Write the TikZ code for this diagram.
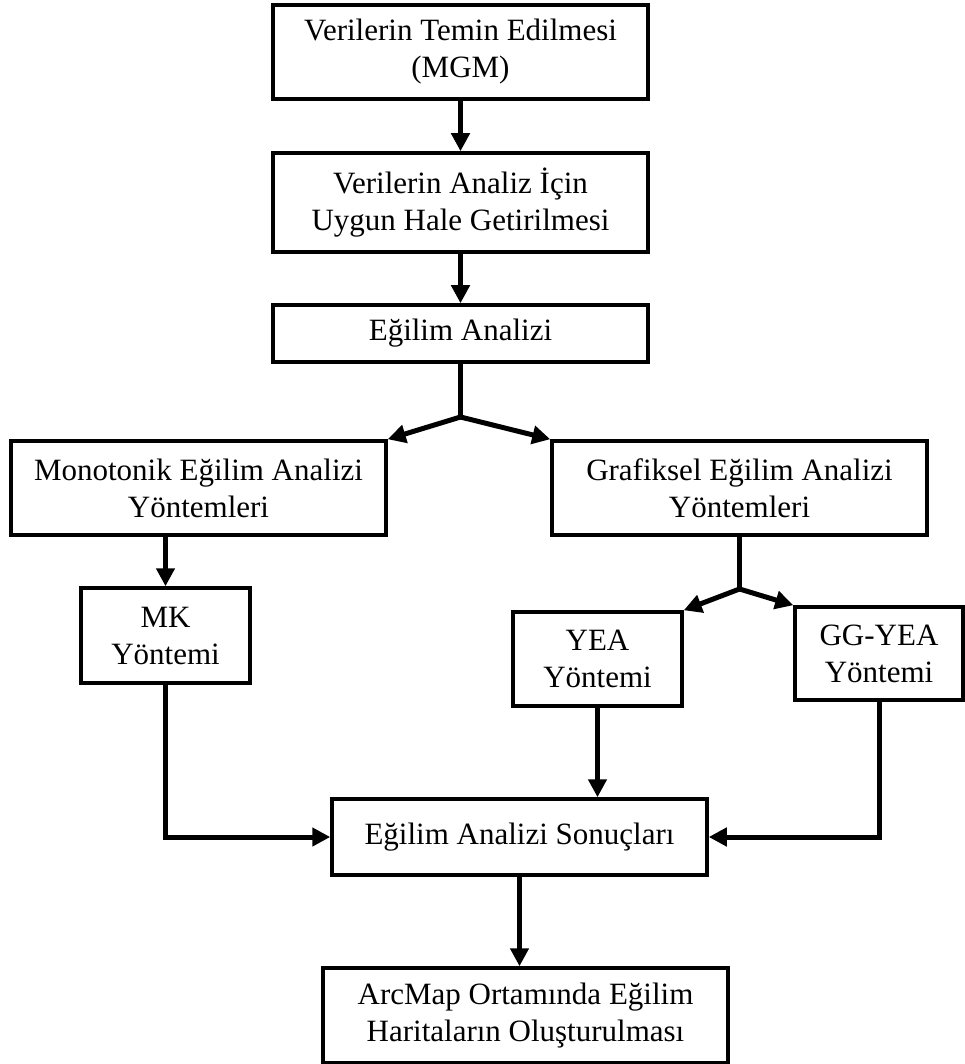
\documentclass[tikz,border=0pt]{standalone}
\usepackage{fontspec}
\setmainfont{Liberation Serif}
\usepackage{tikz}
\usetikzlibrary{positioning, arrows.meta}

\tikzset{
  box/.style={draw, line width=3.5pt, rectangle, align=center, inner sep=0pt,
    font=\fontsize{31}{37}\selectfont},
  link/.style={line width=5pt},
  arr/.style={line width=5pt, -{Triangle[length=18pt,width=18pt]}}
}

\begin{document}
\begin{tikzpicture}[x=1pt, y=-1pt]
    \useasboundingbox (0,0) rectangle (964,1064);

    % Draw boxes
    \node[box, minimum width=375pt, minimum height=94pt] (temin) at (460.5,52) {Verilerin Temin Edilmesi\\(MGM)};
    \node[box, minimum width=375pt, minimum height=99pt] (uygun) at (460.5,202.5) {Verilerin Analiz İçin\\Uygun Hale Getirilmesi};
    \node[box, minimum width=375pt, minimum height=57pt] (egilim) at (460.5,333.5) {Eğilim Analizi};
    \node[box, minimum width=375pt, minimum height=94pt] (mono) at (198.5,488) {Monotonik Eğilim Analizi\\Yöntemleri};
    \node[box, minimum width=375pt, minimum height=94pt] (graf) at (739.5,488) {Grafiksel Eğilim Analizi\\Yöntemleri};
    \node[box, minimum width=169pt, minimum height=95pt] (mk) at (165.5,635.5) {MK\\Yöntemi};
    \node[box, minimum width=169pt, minimum height=94pt] (yea) at (597.5,659) {YEA\\Yöntemi};
    \node[box, minimum width=168pt, minimum height=93pt] (ggyea) at (879,653.5) {GG-YEA\\Yöntemi};
    \node[box, minimum width=375pt, minimum height=76pt] (sonuc) at (519.5,837) {Eğilim Analizi Sonuçları};
    \node[box, minimum width=405pt, minimum height=95pt] (harita) at (525.5,1015.5) {ArcMap Ortamında Eğilim\\Haritaların Oluşturulması};

    % Branch points
    \coordinate (split1) at (460.5,417);
    \coordinate (split2) at (739.5,589);

    % Draw connectors
    \draw[arr] (temin) -- (uygun);
    \draw[arr] (uygun) -- (egilim);
    \draw[link] (egilim.south) -- (split1);
    \draw[arr] (split1) -- (mono.north east);
    \draw[arr] (split1) -- (graf.north west);
    \draw[arr] (mk.north |- mono.south) -- (mk.north);
    \draw[link] (graf.south) -- (split2);
    \draw[arr] (split2) -- (yea.north east);
    \draw[arr] (split2) -- (ggyea.north west);
    \draw[arr] (mk.south) |- (sonuc.west);
    \draw[arr] (yea.south) -- (yea.south |- sonuc.north);
    \draw[arr] (ggyea.south) |- (sonuc.east);
    \draw[arr] (sonuc.south) -- (sonuc.south |- harita.north);
\end{tikzpicture}
\end{document}
